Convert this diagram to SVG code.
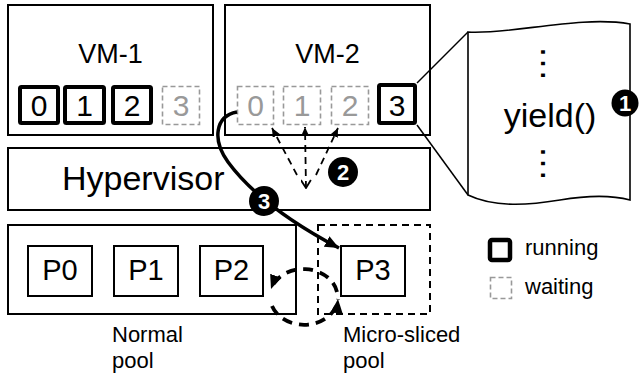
<svg xmlns="http://www.w3.org/2000/svg" width="644" height="377" viewBox="0 0 644 377">
<defs>
<style>
text{font-family:"Liberation Sans",Arial,sans-serif;fill:#000}
.box{fill:#fff;stroke:#000;stroke-width:2}
.run{fill:#fff;stroke:#000;stroke-width:4;}
.wait{fill:#fff;stroke:#999;stroke-width:1.6;stroke-dasharray:5 3}
.wt{fill:#999}
.dig{font-size:30px;text-anchor:middle}
.lbl{font-size:22px}
.badge circle{fill:#000}
.badge text{fill:#fff;font-size:22px;font-weight:bold;text-anchor:middle}
.thin{fill:none;stroke:#000;stroke-width:1.5}
.dsh{fill:none;stroke:#000;stroke-width:1.8;stroke-dasharray:7 5}
</style>
<marker id="aS" markerUnits="userSpaceOnUse" markerWidth="10" markerHeight="10" refX="9" refY="4" orient="auto">
<path d="M0,0 L9,4 L0,8 Z" fill="#000"/>
</marker>
<marker id="aV" markerUnits="userSpaceOnUse" markerWidth="12" markerHeight="12" refX="1" refY="5" orient="auto">
<path d="M9,0 L1,5 L9,10" fill="none" stroke="#000" stroke-width="1.8"/>
</marker>
<marker id="aL" markerUnits="userSpaceOnUse" markerWidth="16" markerHeight="14" refX="14" refY="6" orient="auto">
<path d="M0,0 L14,6 L0,12 Z" fill="#000"/>
</marker>
</defs>

<g id="vm1">
<rect class="box" x="8" y="5" width="205" height="130"/>
<text x="110.5" y="63" style="font-size:27px" text-anchor="middle">VM-1</text>
<rect class="run" x="20" y="87" width="38" height="36" rx="1.5"/>
<rect class="run" x="65" y="87" width="39" height="36" rx="1.5"/>
<rect class="run" x="113" y="87" width="38" height="36" rx="1.5"/>
<rect class="wait" x="162.5" y="86.5" width="37" height="38"/>
<text class="dig" x="39" y="116">0</text>
<text class="dig" x="84.5" y="116">1</text>
<text class="dig" x="132" y="116">2</text>
<text class="dig wt" x="181" y="116">3</text>
</g>

<g id="hypervisor">
<rect class="box" x="8" y="148" width="422" height="62"/>
<text x="62" y="190" style="font-size:34px">Hypervisor</text>
</g>

<g id="vm2">
<rect class="box" x="225" y="5" width="205" height="130"/>
<text x="327.5" y="63" style="font-size:27px" text-anchor="middle">VM-2</text>
<rect class="wait" x="237.5" y="86.5" width="36" height="38"/>
<rect class="wait" x="283.5" y="86.5" width="37" height="38"/>
<rect class="wait" x="331.5" y="86.5" width="37" height="38"/>
<rect class="run" x="379" y="85" width="36" height="38" rx="1.5"/>
<text class="dig wt" x="255.5" y="116">0</text>
<text class="dig wt" x="302" y="116">1</text>
<text class="dig wt" x="350" y="116">2</text>
<text class="dig" x="397" y="116">3</text>
</g>

<g id="normal-pool">
<rect class="box" x="8" y="225" width="288" height="89"/>
<rect class="box" x="28" y="246" width="64" height="50"/>
<rect class="box" x="114" y="246" width="64" height="50"/>
<rect class="box" x="200" y="246" width="63" height="50"/>
<text x="60" y="280" style="font-size:29px" text-anchor="middle">P0</text>
<text x="146" y="280" style="font-size:29px" text-anchor="middle">P1</text>
<text x="231.5" y="280" style="font-size:29px" text-anchor="middle">P2</text>
<text class="lbl" x="112" y="342">Normal</text>
<text class="lbl" x="112" y="368">pool</text>
</g>

<g id="micro-sliced-pool">
<rect x="318" y="225" width="112" height="89" fill="none" stroke="#000" stroke-width="2" stroke-dasharray="7 5"/>
<rect class="box" x="341" y="246" width="64" height="50"/>
<text x="373" y="280" style="font-size:29px" text-anchor="middle">P3</text>
<text class="lbl" x="343" y="342">Micro-sliced</text>
<text class="lbl" x="343" y="368">pool</text>
</g>

<g id="connectors">
<line class="thin" x1="417" y1="83" x2="468" y2="32"/>
<line class="thin" x1="417" y1="125" x2="468" y2="195"/>
<line class="dsh" x1="297" y1="175" x2="272" y2="128" marker-end="url(#aS)"/>
<line class="dsh" x1="306" y1="188" x2="305" y2="127" marker-start="url(#aV)" marker-end="url(#aS)"/>
<line class="dsh" x1="316" y1="175" x2="338" y2="128" marker-end="url(#aS)"/>
<path d="M237,112 C215,116 212,140 228,162 C250,192 290,222 339,248" fill="none" stroke="#000" stroke-width="3.5" marker-end="url(#aL)"/>
<path d="M337,292 A34,28 0 0 0 271,289" fill="none" stroke="#000" stroke-width="3.8" stroke-dasharray="10 7" marker-end="url(#aL)"/>
<path d="M272,306 A34,28 0 0 0 338,299" fill="none" stroke="#000" stroke-width="3.8" stroke-dasharray="10 7" marker-end="url(#aL)"/>
</g>

<g id="yield">
<path d="M468,32 C510,35 580,15 630,24 L630,200 C615,196 590,195 560,200 C530,205 495,208 468,195 Z" fill="#fff" stroke="#000" stroke-width="1.6"/>
<text transform="translate(541,47) rotate(90)" style="font-size:36px;letter-spacing:1.6px">...</text>
<text x="550" y="127" style="font-size:34px" text-anchor="middle">yield()</text>
<text transform="translate(541,147) rotate(90)" style="font-size:36px;letter-spacing:1.6px">...</text>
</g>

<g id="badge1" class="badge"><circle cx="625" cy="103" r="13.5"/><text x="625" y="111">1</text></g>
<g id="badge2" class="badge"><circle cx="343" cy="172" r="15"/><text x="343" y="180">2</text></g>
<g id="badge3" class="badge"><circle cx="264" cy="201" r="15"/><text x="264" y="209">3</text></g>

<g id="legend">
<rect x="490" y="240" width="20" height="20" rx="2" fill="#fff" stroke="#000" stroke-width="4.5"/>
<text class="lbl" x="525" y="255">running</text>
<rect class="wait" x="490.5" y="277.5" width="21" height="21"/>
<text class="lbl" x="525" y="294">waiting</text>
</g>
</svg>
